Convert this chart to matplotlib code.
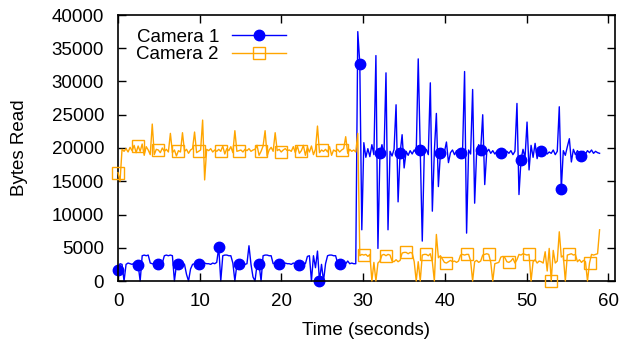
import numpy as np
import matplotlib
matplotlib.use("Agg")
import matplotlib.pyplot as plt

plt.rcParams['font.family'] = ['Liberation Sans', 'DejaVu Sans']

# ---- data ----
sample_interval = 0.2465  # seconds between samples

camera1 = [
    1700, 2600, 2500, 0, 2500, 2700, 2600, 2500, 2700, 2600,
    2400, 0, 3800, 3900, 3800, 3900, 2700, 2600, 2500, 2600,
    2500, 2600, 2700, 3800, 3900, 3800, 3900, 3800, 0, 2400,
    2500, 2600, 2700, 2500, 1000, 0, 1800, 2500, 2600, 2700,
    2500, 2600, 2500, 2700, 2600, 2600, 2500, 2700, 2600, 2800,
    5100, 0, 3800, 3900, 3900, 3800, 3800, 2700, 0, 2500,
    2500, 2600, 2700, 2500, 2600, 5300, 2500, 600, 0, 2500,
    2500, 0, 3800, 3900, 3900, 3800, 3800, 2600, 2700, 2500,
    2500, 2600, 2500, 2700, 2600, 2600, 2500, 2700, 2600, 2600,
    2450, 2600, 2700, 2600, 3700, 3800, 0, 3800, 2000, 4500,
    0, 2500, 0, 2600, 3800, 3900, 3900, 3800, 3800, 2700,
    2500, 2600, 2700, 2600, 3000, 2600, 2700, 2600, 2600, 37500,
    32700, 7700, 20800, 18600, 19900, 18700, 20500, 19000, 33900, 4900,
    19200, 20500, 18900, 31300, 7700, 19500, 18800, 19800, 26500, 11900,
    19200, 22000, 17000, 19500, 18900, 19600, 19100, 19700, 19300, 33400,
    19700, 6000, 19300, 19800, 19000, 29800, 10500, 19500, 25200, 14200,
    19200, 19600, 19400, 20900, 17800, 19300, 19700, 19000, 19600, 19300,
    19200, 19500, 31500, 7200, 19700, 19100, 28800, 11700, 19500, 20500,
    19700, 25000, 14500, 19400, 19800, 19200, 19600, 19100, 19500, 19300,
    19300, 19600, 19100, 19500, 19200, 19600, 19000, 19500, 26700, 13000,
    18200, 19800, 18500, 23900, 16700, 20400, 18600, 20700, 18400, 19900,
    19500, 19300, 19600, 19100, 19400, 19200, 19700, 19000, 19500, 26200,
    13800, 19600, 18900, 20200, 21400, 17900, 19800, 19000, 19600, 19200,
    18800, 19500, 19100, 19600, 19300, 19700, 19200, 19500, 19300, 19200,
]

camera2 = [
    16300, 15000, 19800, 19500, 19900, 19400, 20100, 19600, 20400, 19300,
    20300, 19500, 20600, 18900, 20200, 19700, 19000, 23600, 19000, 19800,
    19700, 19300, 20000, 19500, 19800, 19400, 22200, 19300, 19700, 18800,
    19600, 19400, 22300, 19500, 19800, 19200, 19700, 19900, 22400, 19300,
    19500, 19700, 24200, 15200, 19800, 19600, 19900, 19400, 19700, 19500,
    19800, 19500, 20300, 19100, 19900, 19600, 20200, 19300, 22600, 19500,
    19600, 19700, 19400, 19800, 19600, 19900, 19500, 19700, 19800, 20400,
    18900, 19500, 20300, 22600, 18800, 19700, 20100, 19500, 22300, 19600,
    19800, 19400, 19700, 19900, 19600, 19700, 19500, 20200, 19300, 20300,
    19200, 19600, 20400, 18900, 20100, 19400, 20300, 19000, 19800, 23300,
    19300, 19700, 19500, 19800, 19400, 20200, 18900, 19700, 19500, 19800,
    19400, 19700, 19900, 21700, 19200, 19800, 19500, 19700, 19400, 22200,
    3800, 4000, 3900, 4000, 3700, 4000, 0, 2800, 0, 2700,
    3000, 3900, 4000, 3800, 4000, 3900, 3000, 2900, 3200, 2900,
    3100, 4200, 4300, 4300, 4100, 4300, 4200, 2900, 0, 2900,
    0, 3900, 4000, 4000, 3800, 4100, 2900, 0, 7000, 3500,
    3800, 3300, 2800, 2700, 2900, 3100, 2900, 3000, 2800, 3000,
    3900, 4000, 3900, 4000, 4000, 3000, 0, 2900, 3100, 2800,
    3000, 3900, 4000, 4100, 4000, 2800, 0, 2600, 2700, 2800,
    3600, 3700, 3500, 2900, 2800, 3000, 3400, 2700, 3200, 4000,
    3900, 4100, 4000, 3900, 4000, 0, 2900, 3200, 2700, 3000,
    2900, 2700, 4400, 1500, 4900, 0, 4600, 2700, 3000, 7400,
    3600, 3800, 0, 3900, 4000, 4100, 3900, 4000, 2900, 3200,
    2800, 3100, 2900, 0, 2700, 4000, 3900, 4000, 4100, 7700,
]

camera1_marker_idx = list(range(0, 240, 10))
camera2_marker_idx = [0, 10, 20, 30, 40, 51, 60, 71, 81, 91, 101, 111,
                      122, 133, 143, 153, 163, 173, 184, 194, 204, 215, 224, 234]

series_labels = ["Camera 1", "Camera 2"]
x_ticks = [0, 10, 20, 30, 40, 50, 60]
y_ticks = [0, 5000, 10000, 15000, 20000, 25000, 30000, 35000, 40000]

# ---- plot ----
t1 = np.arange(len(camera1)) * sample_interval
t2 = np.arange(len(camera2)) * sample_interval

fig = plt.figure(figsize=(6.19, 3.40), dpi=100)
ax = fig.add_axes([118 / 619, 1 - 281 / 340, (615 - 118) / 619, (281 - 15) / 340])

ax.plot(t1, camera1, color='#0000ff', lw=1.0, marker='o', ms=7.5,
        markevery=camera1_marker_idx, label=series_labels[0], clip_on=False, zorder=2)
ax.plot(t2, camera2, color='#ffa500', lw=1.0, marker='s', ms=8, mfc='none',
        mec='#ffa500', mew=1.0, markevery=camera2_marker_idx,
        label=series_labels[1], clip_on=False, zorder=3)

ax.set_xlim(0, 60.8)
ax.set_ylim(0, 40000)
ax.set_xticks(x_ticks)
ax.set_yticks(y_ticks)
ax.tick_params(direction='in', top=True, right=True, length=6, width=1,
               labelsize=13.5)
ax.tick_params(axis='y', pad=10)
ax.tick_params(axis='x', pad=9)
for s in ax.spines.values():
    s.set_linewidth(1.2)

ax.set_xlabel("Time (seconds)", fontsize=13.5, labelpad=8)
ax.set_ylabel("Bytes Read", fontsize=13.5, labelpad=17)

leg = ax.legend(loc='upper left', bbox_to_anchor=(0.037, 0.948), markerfirst=False,
                frameon=False, handlelength=2.9, handletextpad=0.7,
                labelspacing=0.0, borderpad=0, borderaxespad=0, fontsize=13.5)

fig.savefig("out.png", dpi=100)
